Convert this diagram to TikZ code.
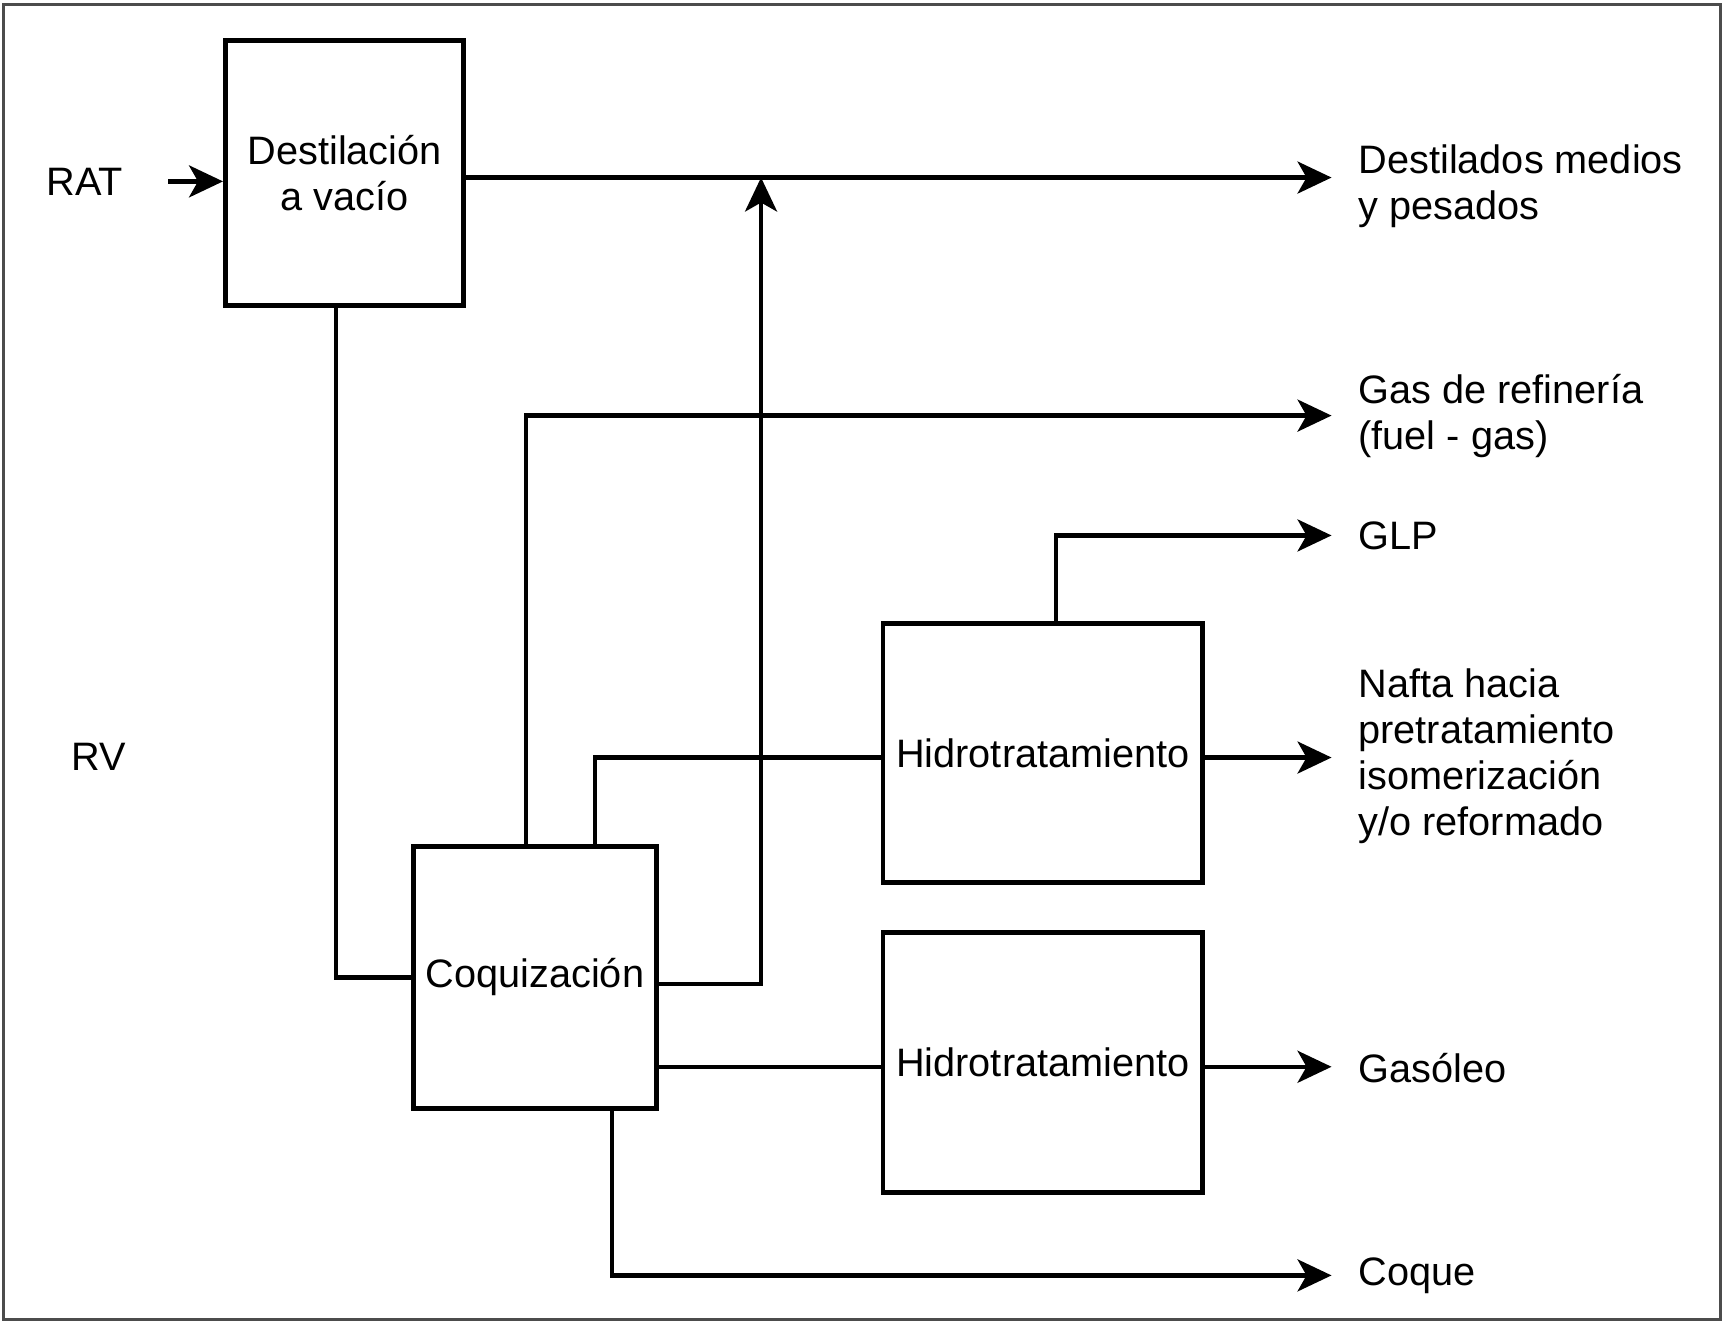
\documentclass[tikz,border=0pt]{standalone}
\usepackage{fontspec}
\setmainfont{Liberation Sans}
\usetikzlibrary{arrows.meta, positioning, calc}

\begin{document}
\begin{tikzpicture}[
    x=0.010995cm, y=-0.010995cm,
    font=\fontsize{11.3}{13.1}\selectfont,
    unit/.style={rectangle, draw, line width=1.4pt, inner sep=0pt, align=center},
    outlabel/.style={anchor=west, align=left, inner sep=0pt},
    flow/.style={line width=1.2pt},
    arrow/.style={flow, -{Stealth[length=3.4mm, width=3.2mm, inset=0.9mm]}},
    outarrow/.style={arrow, shorten >=7.5pt}
]
\useasboundingbox (0,0) rectangle (1568,1203);
\draw[black!70, line width=0.9pt] (3,4) rectangle (1565,1200);

% Units
\node (dest) [unit, minimum width=2.386cm, minimum height=2.65cm] at (313.5,157.5) {Destilación\\a vacío};
\node (coq) [unit, minimum width=2.43cm, minimum height=2.617cm] at (486.5,889) {Coquización};
\node (hid1) [unit, minimum width=3.2cm, minimum height=2.595cm] at (948.5,685) {Hidrotratamiento};
\node (hid2) [unit, minimum width=3.2cm, minimum height=2.595cm, below=0.45cm of hid1] {Hidrotratamiento};

% Streams
\node (rat) at (77,165) {RAT};
\node (rv) at (90,688) {RV};
\node (dmp) [outlabel] at (1235,169) {Destilados medios\\y pesados};
\node (gas) [outlabel] at (1235,378) {Gas de refinería\\(fuel - gas)};
\node (glp) [outlabel] at (1235,487) {GLP};
\node (nafta) [outlabel] at (1235,688) {Nafta hacia\\pretratamiento\\isomerización\\y/o reformado};
\node (gasoleo) [outlabel] at (1235,971) {Gasóleo};
\node (coque) [outlabel] at (1235,1160) {Coque};
\coordinate (join) at ($(dest.east)+(268,4)$);

% Connections
\draw [arrow] ($(rat.east)+(30,0)$) -- (dest.west |- rat);
\draw [outarrow] ($(dest.east)+(0,4)$) -- (join) -- (join -| dmp.west);
\draw [flow] ($(dest.south)+(-8,0)$) |- (coq.west);
\draw [outarrow] ($(coq.north)+(-8,0)$) |- (gas.west);
\draw [flow] ($(coq.north)+(55,0)$) |- ($(hid1.west)+(0,4)$);
\draw [arrow] ($(coq.east)+(0,6)$) -| (join);
\draw [flow] ($(coq.east |- hid2.west)+(0,4)$) -- ($(hid2.west)+(0,4)$);
\draw [outarrow] ($(coq.south)+(70,0)$) |- (coque.west);
\draw [outarrow] ($(hid1.north)+(12,0)$) |- (glp.west);
\draw [outarrow] ($(hid1.east)+(0,4)$) -- ($(hid1.east -| nafta.west)+(0,4)$);
\draw [outarrow] ($(hid2.east)+(0,4)$) -- ($(hid2.east -| gasoleo.west)+(0,4)$);

\end{tikzpicture}
\end{document}
